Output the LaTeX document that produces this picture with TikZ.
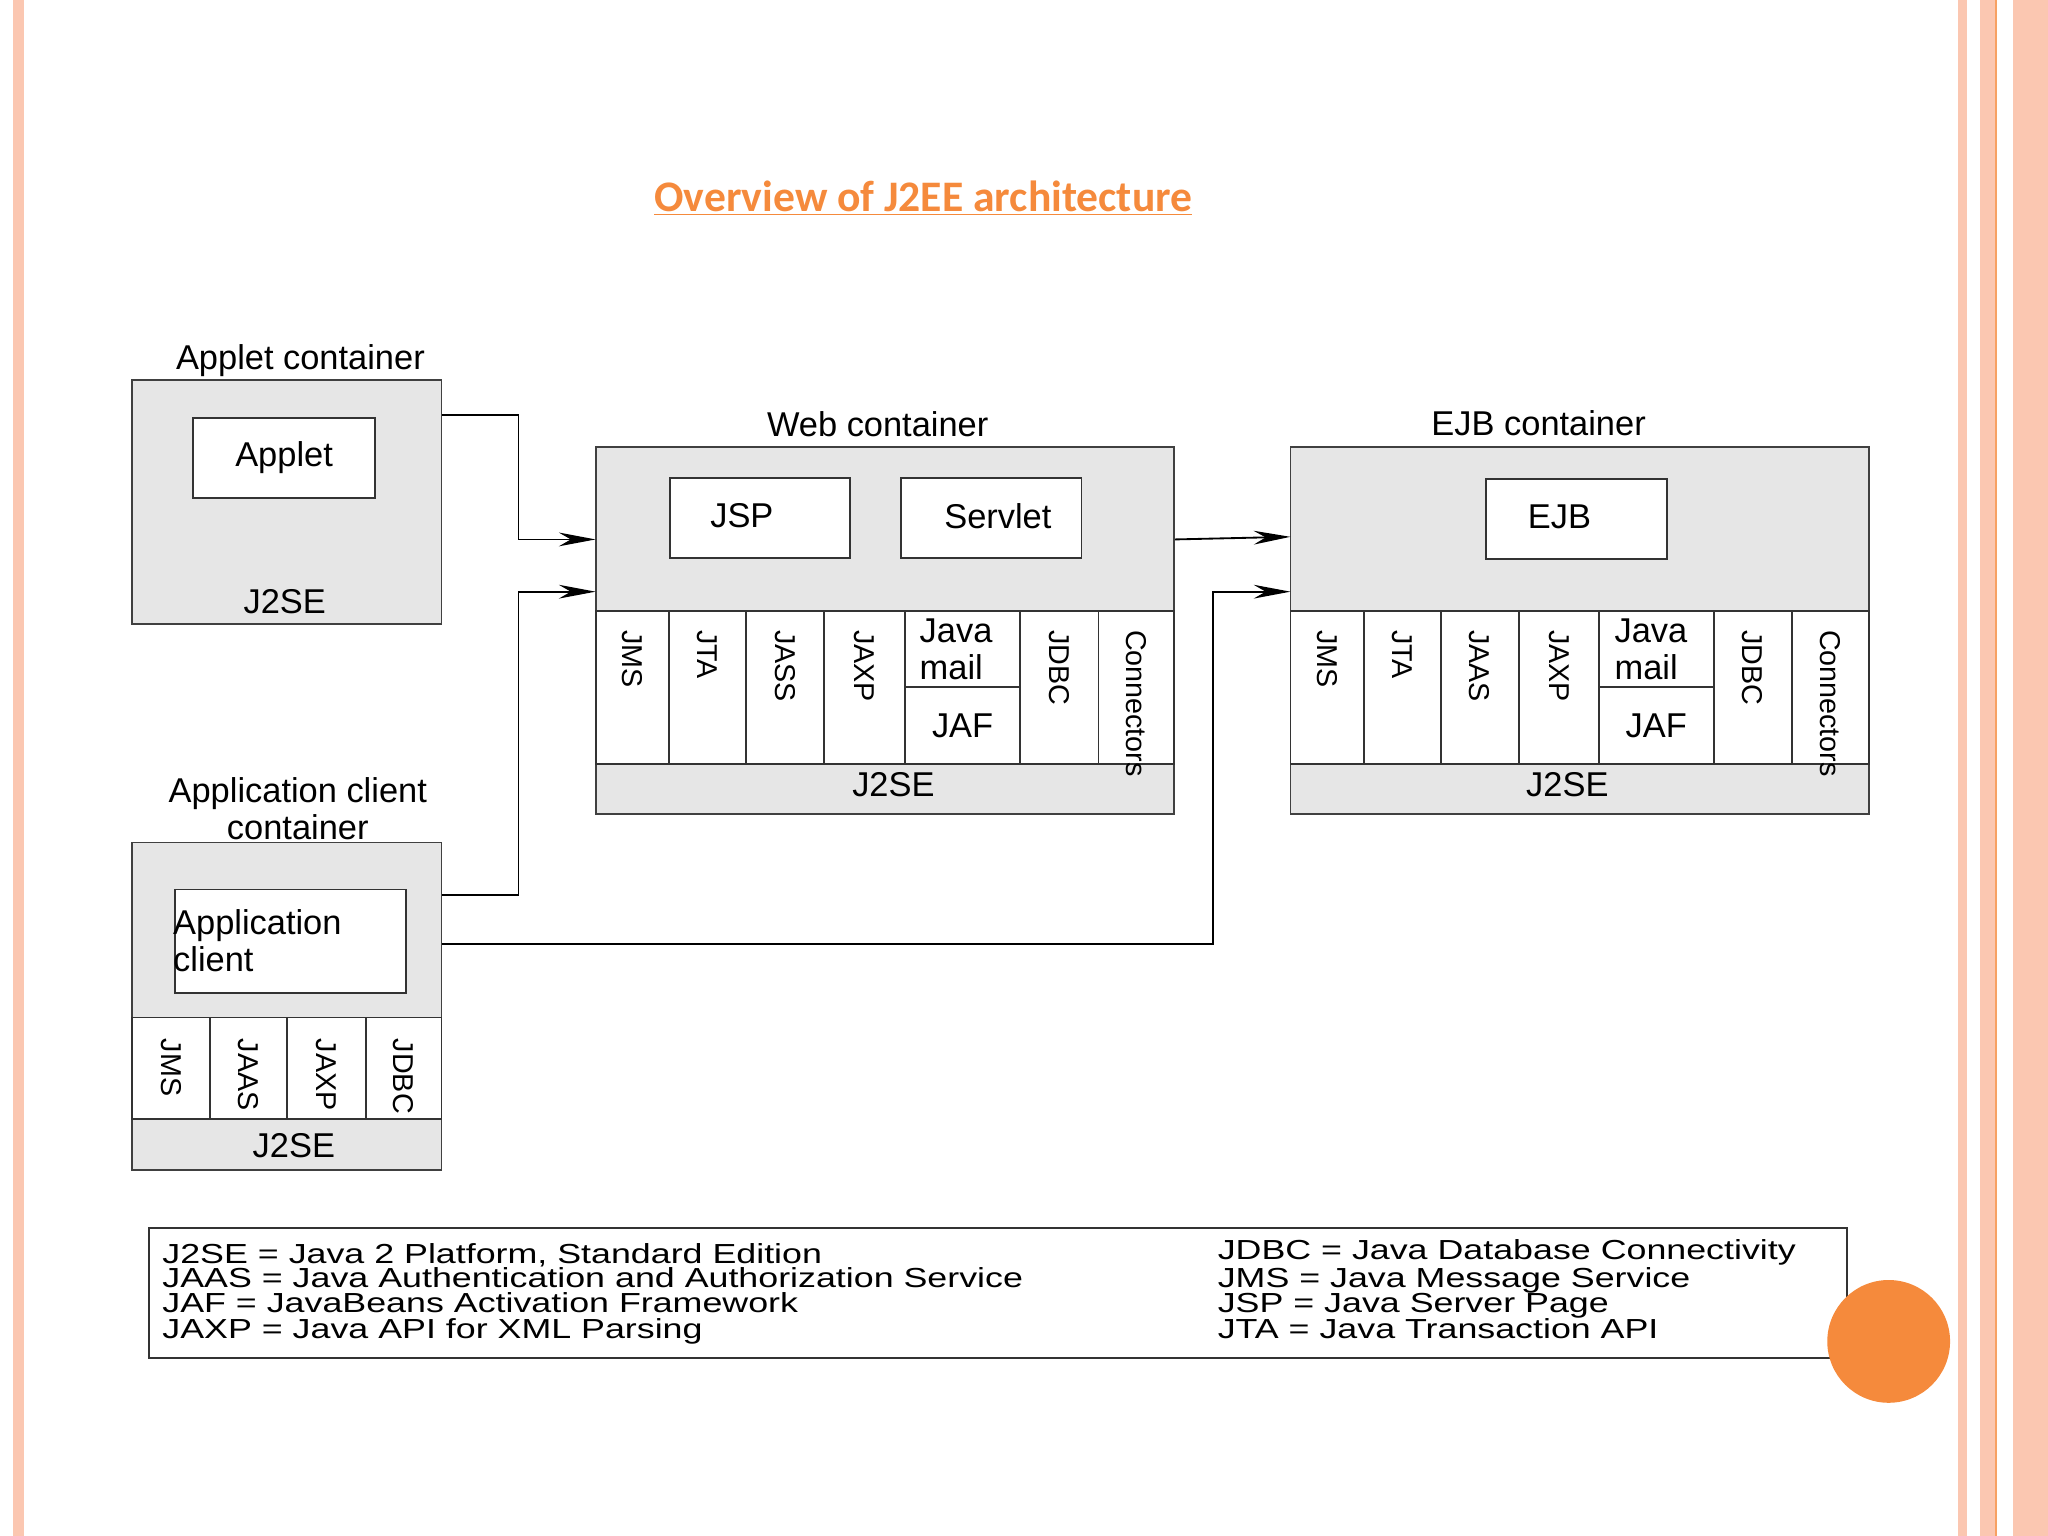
\documentclass[tikz,border=0pt]{standalone}
\usepackage{fontspec}
\setmainfont{Liberation Sans}
\newfontfamily\titlefont{Carlito}
\usetikzlibrary{positioning,fit,backgrounds,arrows.meta}
\definecolor{boxgray}{HTML}{E6E6E6}
\definecolor{stripe}{HTML}{FBC7B1}
\definecolor{accent}{HTML}{F58A3C}
\tikzset{
  cont/.style={draw=black!75, thick, fill=boxgray, inner sep=0pt},
  comp/.style={draw=black!80, thick, fill=white, inner sep=0pt},
  strip/.style={draw=black!80, thick, fill=white, inner sep=0pt},
  lbl/.style={font=\fontsize{15}{16}\selectfont, inner sep=0pt},
  vlbl/.style={lbl, font=\fontsize{12.5}{13}\selectfont, rotate=-90, anchor=west},
  leg/.style={font=\fontsize{12}{12}\selectfont, inner sep=0pt, anchor=base west},
  link/.style={thick, -{Stealth[length=16pt, width=6pt]}}
}
\newcommand{\legtext}[1]{\scalebox{1.3}[1]{#1}}
\begin{document}
\begin{tikzpicture}[x=0.02cm, y=-0.02cm]
\useasboundingbox (0,0) rectangle (1568,1176);
% slide frame
\fill[stripe] (10,0) rectangle (18,1176);
\fill[stripe] (1499,0) rectangle (1506,1176);
\fill[stripe] (1516,0) rectangle (1528,1176);
\draw[accent!80, thick] (1528,0) -- (1528,1176);
\fill[stripe] (1541,0) rectangle (1568,1176);

\node[lbl, font=\titlefont\bfseries\fontsize{19}{20}\selectfont, text=accent] (title) at (707,152) {\underline{Overview of J2EE architecture}};

% applet container
\node[cont, fit={(101,291) (338,478)}] (appc) {};
\node[lbl] at (230,276) {Applet container};
\node[comp, fit={(148,320) (287,381)}] (applet) {};
\node[lbl] at (applet) {Applet};
\node[lbl] at (218,461) {J2SE};

% web container
\node[cont, fit={(456,342) (899,623)}] (web) {};
\node[lbl] at (672,325) {Web container};
\node[comp, fit={(513,366) (651,427)}] (jsp) {};
\node[lbl] at (568,395) {JSP};
\node[comp, fit={(690,366) (828,427)}] (servlet) {};
\node[lbl] at (764,395) {Servlet};
\foreach \a/\b/\t in {456/512/JMS, 512/571/JTA, 571/631/JASS, 631/693/JAXP, 781/841/JDBC, 841/899/Connectors}
  {\node[strip, fit={(\a,468) (\b,585)}] {};
   \node[vlbl] at ({(\a+\b)/2},482) {\t};}
\node[strip, fit={(693,468) (781,526)}] (wmail) {};
\node[lbl, align=left] at (732,497) {Java\\mail};
\node[strip, fit={(693,526) (781,585)}] (wjaf) {};
\node[lbl] at (wjaf) {JAF};
\node[lbl] at (684,601) {J2SE};

% ejb container
\node[cont, fit={(988,342) (1431,623)}] (ejbc) {};
\node[lbl] at (1178,324) {EJB container};
\node[comp, fit={(1138,367) (1276,428)}] (ejb) {};
\node[lbl] at (1194,396) {EJB};
\foreach \a/\b/\t in {988/1044/JMS, 1044/1103/JTA, 1103/1163/JAAS, 1163/1224/JAXP, 1312/1372/JDBC, 1372/1431/Connectors}
  {\node[strip, fit={(\a,468) (\b,585)}] {};
   \node[vlbl] at ({(\a+\b)/2},482) {\t};}
\node[strip, fit={(1224,468) (1312,526)}] (email) {};
\node[lbl, align=left] at (1264,497) {Java\\mail};
\node[strip, fit={(1224,526) (1312,585)}] (ejaf) {};
\node[lbl] at (ejaf) {JAF};
\node[lbl] at (1200,601) {J2SE};

% application client container
\node[cont, fit={(101,645) (338,896)}] (clientc) {};
\node[lbl, align=center] at (228,619) {Application client\\container};
\node[comp, fit={(134,681) (311,760)}] (client) {};
\node[lbl, align=left] at (220,720) {Application\\client\hspace*{4.3em}};
\foreach \a/\b/\t in {101/161/JMS, 161/220/JAAS, 220/280/JAXP, 280/338/JDBC}
  {\node[strip, fit={(\a,779) (\b,857)}] {};
   \node[vlbl] at ({(\a+\b)/2},795) {\t};}
\node[lbl] at (225,877) {J2SE};

% connectors
\coordinate (w1) at (456,413);
\coordinate (w2) at (456,453);
\coordinate (e1) at (988,411);
\coordinate (e2) at (988,453);
\draw[link] (appc.east |- 0,318) -| (397,413) -- (w1);
\draw[link] (clientc.east |- 0,685) -| (397,453) -- (w2);
\draw[link] (web.east |- 0,413) -- (e1);
\draw[link] (clientc.east |- 0,723) -| (929,453) -- (e2);

% legend
\node[draw=black!80, thick, fill=white, fit={(114,940) (1414,1040)}, inner sep=0pt] (legend) {};
\node[leg] at (124,967) {\legtext{J2SE = Java 2 Platform, Standard Edition}};
\node[leg] at (124,986) {\legtext{JAAS = Java Authentication and Authorization Service}};
\node[leg] at (124,1005) {\legtext{JAF = JavaBeans Activation Framework}};
\node[leg] at (124,1025) {\legtext{JAXP = Java API for XML Parsing}};
\node[leg] at (932,964) {\legtext{JDBC = Java Database Connectivity}};
\node[leg] at (932,986) {\legtext{JMS = Java Message Service}};
\node[leg] at (932,1005) {\legtext{JSP = Java Server Page}};
\node[leg] at (932,1025) {\legtext{JTA = Java Transaction API}};

\fill[accent] (1446,1027) circle (47);
\end{tikzpicture}
\end{document}
